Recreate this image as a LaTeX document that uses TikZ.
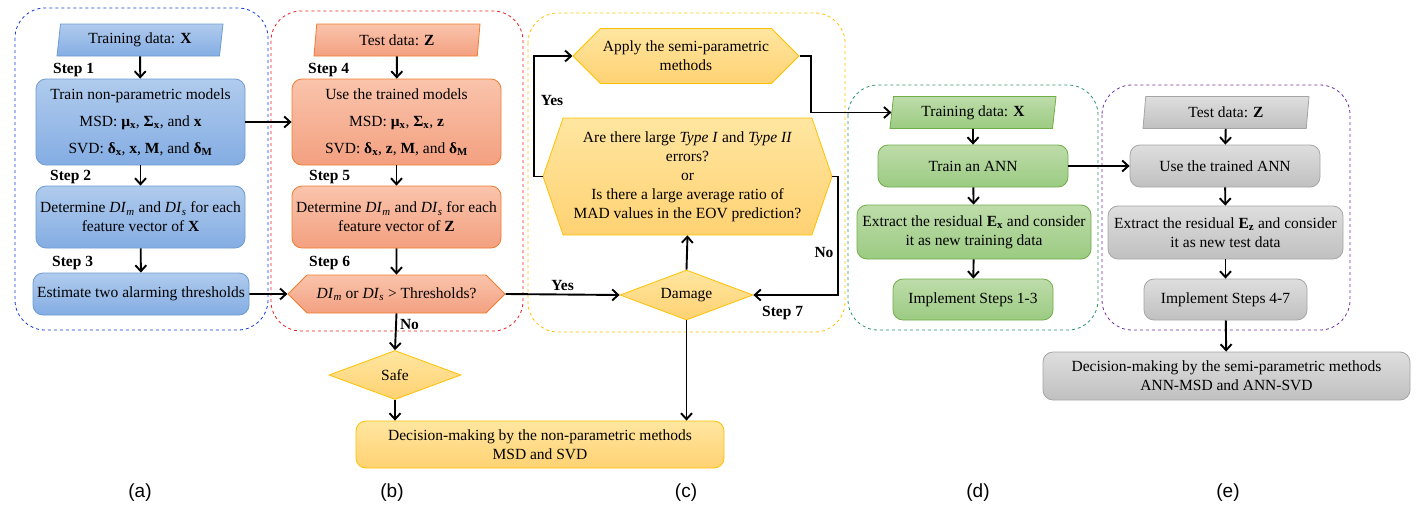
\documentclass[tikz,border=0pt]{standalone}
\usepackage{amsmath}
\usepackage{fontspec}
\setmainfont{Liberation Serif}
\newfontfamily\panelfont{Liberation Sans}
\usepackage{tikz}
\usetikzlibrary{shapes.geometric,shapes.symbols,arrows.meta}
\definecolor{dblue}{RGB}{20,60,220}
\definecolor{dred}{RGB}{235,30,30}
\definecolor{dyellow}{RGB}{255,192,0}
\definecolor{dgreen}{RGB}{40,150,100}
\definecolor{dpurple}{RGB}{112,48,160}
\definecolor{blueedge}{RGB}{110,155,210}
\definecolor{bluetop}{RGB}{176,203,237}
\definecolor{bluebot}{RGB}{132,173,227}
\definecolor{orangeedge}{RGB}{237,125,49}
\definecolor{orangetop}{RGB}{250,196,172}
\definecolor{orangebot}{RGB}{243,160,128}
\definecolor{yellowedge}{RGB}{255,192,0}
\definecolor{yellowtop}{RGB}{255,230,160}
\definecolor{yellowbot}{RGB}{255,210,115}
\definecolor{greenedge}{RGB}{112,173,71}
\definecolor{greentop}{RGB}{190,220,170}
\definecolor{greenbot}{RGB}{155,203,130}
\definecolor{grayedge}{RGB}{165,165,165}
\definecolor{graytop}{RGB}{222,222,222}
\definecolor{graybot}{RGB}{192,192,192}
\newcommand{\DIm}{\textit{DI}\textsubscript{\textit{m}}}
\newcommand{\DIs}{\textit{DI}\textsubscript{\textit{s}}}
\newcommand{\bsub}[2]{\textbf{#1\textsubscript{#2}}}

\begin{document}
\begin{tikzpicture}[x=1pt, y=-1pt,
    every node/.style={font=\fontsize{15.5}{19}\selectfont, inner sep=0pt, align=center},
    box/.style={draw=#1edge, top color=#1top, bottom color=#1bot, rounded corners=10pt, thick},
    datain/.style={trapezium, trapezium left angle=76, trapezium right angle=104,
      trapezium stretches body=true,
      draw=#1edge, top color=#1top, bottom color=#1bot, thick,
      minimum width=166, minimum height=32},
    hexa/.style={signal, signal to=west and east, draw=#1edge, top color=#1top, bottom color=#1bot, thick},
    dmd/.style={diamond, aspect=2.7, draw=yellowedge, top color=yellowtop, bottom color=yellowbot, thick},
    steplbl/.style={anchor=west, font=\fontsize{15.5}{19}\selectfont\bfseries},
    lbl/.style={font=\fontsize{15.5}{19}\selectfont\bfseries},
    panel/.style={draw=#1, dashed, rounded corners=30pt, thick},
    arr/.style={-{Straight Barb[length=6pt,width=11pt]}, line width=1.9pt}]

  \useasboundingbox (0,0) rectangle (1418,514);

  % Dashed panel frames
  \draw[panel=dblue] (15,8) rectangle (268,330);
  \draw[panel=dred] (271,11) rectangle (523,331);
  \draw[panel=dyellow] (528,13) rectangle (845,332);
  \draw[panel=dgreen] (848,85) rectangle (1098,330);
  \draw[panel=dpurple] (1102,85) rectangle (1350,330);

  % Panel (a)
  \node[datain=blue] (ta) at (140,40) {Training data: \textbf{X}};
  \node[box=blue, minimum width=209, minimum height=86] (a1) at (140.5,122)
    {Train non-parametric models\\[8pt]
     MSD: \bsub{μ}{x}, \bsub{Σ}{x}, and \textbf{x}\\[8pt]
     SVD: \bsub{δ}{x}, \textbf{x}, \textbf{M}, and \bsub{δ}{M}};
  \node[box=blue, minimum width=209, minimum height=62] (a2) at (140.5,217)
    {Determine \DIm{} and \DIs{} for each\\ feature vector of \textbf{X}};
  \node[box=blue, minimum width=216, minimum height=42] (a3) at (141,294)
    {Estimate two alarming thresholds};
  \node[steplbl] (st1) at (53,70) {Step 1};
  \node[steplbl] (st2) at (50,177) {Step 2};
  \node[steplbl] (st3) at (52,263) {Step 3};
  \draw[arr] (ta) -- (a1);
  \draw[arr] (a1) -- (a2);
  \draw[arr] (a2) -- (a3);

  % Panel (b)
  \node[datain=orange] (tb) at (397,40) {Test data: \textbf{Z}};
  \node[box=orange, minimum width=209, minimum height=86] (b1) at (396.5,122)
    {Use the trained models\\[8pt]
     MSD: \bsub{μ}{x}, \bsub{Σ}{x}, \textbf{z}\\[8pt]
     SVD: \bsub{δ}{x}, \textbf{z}, \textbf{M}, and \bsub{δ}{M}};
  \node[box=orange, minimum width=209, minimum height=62] (b2) at (396.5,217)
    {Determine \DIm{} and \DIs{} for each\\ feature vector of \textbf{Z}};
  \node[hexa=orange, signal pointer angle=90, minimum width=217, minimum height=38] (b3)
    at (396.5,294) {\DIm{} or \DIs{} > Thresholds?};
  \node[steplbl] (st4) at (308,70) {Step 4};
  \node[steplbl] (st5) at (309,177) {Step 5};
  \node[steplbl] (st6) at (309,263) {Step 6};
  \draw[arr] (tb) -- (b1);
  \draw[arr] (b1) -- (b2);
  \draw[arr] (b2) -- (b3);
  \draw[arr] (a1) -- (b1);
  \draw[arr] (a3) -- (b3);

  % Safe branch and non-parametric decision
  \node[dmd, minimum width=132, minimum height=49] (safe) at (395,375) {Safe};
  \node[box=yellow, minimum width=368, minimum height=47] (dec1) at (540,444.5)
    {Decision-making by the non-parametric methods\\ MSD and SVD};
  \draw[arr] (b3.south) -- node[lbl, right, pos=0.3, xshift=3pt] (no1) {No} (safe.north);
  \draw[arr] (safe.south) -- (safe.south |- dec1.north);

  % Panel (c)
  \node[hexa=yellow, signal pointer angle=90, minimum width=226, minimum height=55] (apply)
    at (686,56) {Apply the semi-parametric\\ methods};
  \node[hexa=yellow, signal pointer angle=142, minimum width=289, minimum height=117] (ask)
    at (687.5,176.5)
    {Are there large \textit{Type I} and \textit{Type II}\\ errors?\\ or\\
     Is there a large average ratio of\\ MAD values in the EOV prediction?};
  \node[dmd, minimum width=133, minimum height=50] (damage) at (686.5,295) {Damage};
  \node[steplbl] (st7) at (762,313) {Step 7};
  \draw[arr] (b3.east) -- node[lbl, above=3pt] (yes1) {Yes} (damage.west);
  \draw[arr] (damage.north) -- (ask.south);
  \draw[arr] (ask.west) -- ([xshift=-9pt]ask.west) |- (apply.west);
  \node[lbl] (yes2) at (552,100) {Yes};
  \draw[arr] (ask.east) -- ([xshift=6pt]ask.east) |- (damage.east);
  \node[lbl] (no2) at (824,252) {No};
  \draw[arr] (damage.south) -- (damage.south |- dec1.north);

  % Panel (d)
  \node[datain=green] (td) at (973,112.5) {Training data: \textbf{X}};
  \node[box=green, minimum width=190, minimum height=42] (d1) at (973,166) {Train an ANN};
  \node[box=green, minimum width=234, minimum height=54] (d2) at (974,232)
    {Extract the residual \bsub{E}{x} and consider\\ it as new training data};
  \node[box=green, minimum width=160, minimum height=41] (d3) at (973,299.5) {Implement Steps 1-3};
  \draw[arr] (apply.east) -- ([xshift=11pt]apply.east) |- (td.west);
  \draw[arr] (td) -- (d1);
  \draw[arr] (d1) -- (d2);
  \draw[arr] (d2) -- (d3);

  % Panel (e)
  \node[datain=gray] (te) at (1226,112.5) {Test data: \textbf{Z}};
  \node[box=gray, minimum width=190, minimum height=42] (e1) at (1225,166) {Use the trained ANN};
  \node[box=gray, minimum width=235, minimum height=53] (e2) at (1225.5,232.5)
    {Extract the residual \bsub{E}{z} and consider\\ it as new test data};
  \node[box=gray, minimum width=163, minimum height=41] (e3) at (1225.5,299.5) {Implement Steps 4-7};
  \node[box=gray, minimum width=367, minimum height=48] (dec2) at (1226.5,376)
    {Decision-making by the semi-parametric methods\\ ANN-MSD and ANN-SVD};
  \draw[arr] (d1) -- (e1);
  \draw[arr] (te) -- (e1);
  \draw[arr] (e1) -- (e2);
  \draw[arr] (e2) -- (e3);
  \draw[arr] (e3) -- (dec2);

  % Panel captions
  \foreach \px/\tx in {140/a, 392/b, 686/c, 978/d, 1228/e}
    \node[font=\panelfont\fontsize{19}{22}\selectfont] (cap\tx) at (\px,493) {(\tx)};
\end{tikzpicture}
\end{document}
